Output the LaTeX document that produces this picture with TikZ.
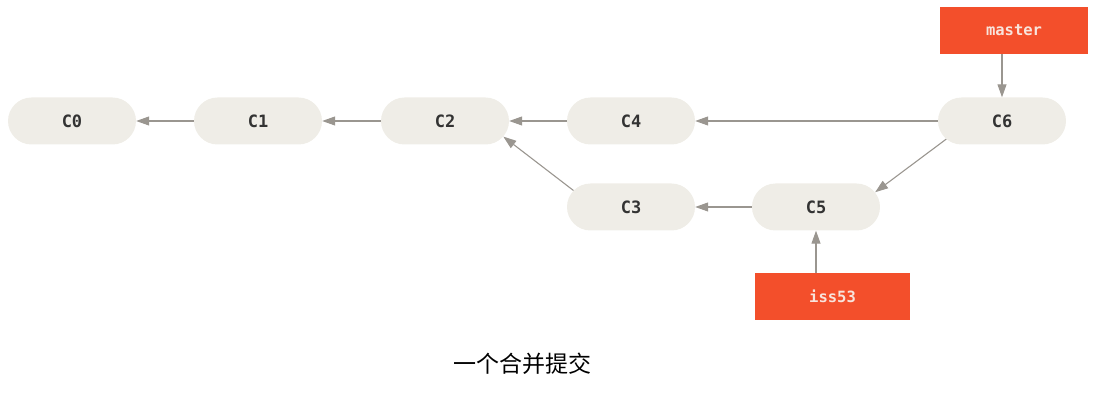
\documentclass[tikz,border=0pt]{standalone}
\usepackage{fontspec}
\setmonofont{DejaVu Sans Mono}
\newfontfamily\cjkfont{Noto Sans CJK SC}
\usetikzlibrary{arrows.meta,shapes.misc}
\definecolor{commitfill}{HTML}{EFEDE7}
\definecolor{commitink}{HTML}{333333}
\definecolor{branchred}{HTML}{F34F2B}
\definecolor{branchink}{HTML}{F8E4DC}
\definecolor{linkgray}{HTML}{9A9690}
\tikzset{
  commit/.style={rounded rectangle, fill=commitfill, minimum width=128pt,
    minimum height=47pt, inner sep=0pt, text=commitink,
    font=\ttfamily\bfseries\fontsize{17}{17}\selectfont},
  branch/.style={rectangle, fill=branchred, minimum height=47pt, inner sep=0pt,
    text=branchink, font=\ttfamily\bfseries\fontsize{15.5}{15.5}\selectfont},
  link/.style={draw=linkgray, line width=1.1pt,
    -{Triangle[length=13pt,width=9pt]}},
}
\begin{document}
\begin{tikzpicture}[x=1pt,y=-1pt]
  \useasboundingbox (0,0) rectangle (1100,403);
  % commits
  \node[commit] (c0) at (72,121) {C0};
  \node[commit] (c1) at (258,121) {C1};
  \node[commit] (c2) at (445,121) {C2};
  \node[commit] (c4) at (631,121) {C4};
  \node[commit] (c6) at (1002,121) {C6};
  \node[commit] (c3) at (631,207) {C3};
  \node[commit] (c5) at (816,207) {C5};
  % branch pointers
  \node[branch, minimum width=148pt] (master) at (1014,30.5) {master};
  \node[branch, minimum width=155pt] (iss53) at (832.5,296.5) {iss53};
  % parent links
  \draw[link] (c1.west) -- (c0.east);
  \draw[link] (c2.west) -- (c1.east);
  \draw[link] (c4.west) -- (c2.east);
  \draw[link] (c6.west) -- (c4.east);
  \draw[link] (c5.west) -- (c3.east);
  \draw[link] (c3.164) -- (c2.-15);
  \draw[link] (c6.-162) -- (c5.14);
  \draw[link] (master.south -| c6.north) -- (c6.north);
  \draw[link] (iss53.north -| c5.south) -- (c5.south);
  % caption
  \node[font=\cjkfont\fontsize{23}{23}\selectfont, text=black] (cap) at (522,364) {一个合并提交};
\end{tikzpicture}
\end{document}
